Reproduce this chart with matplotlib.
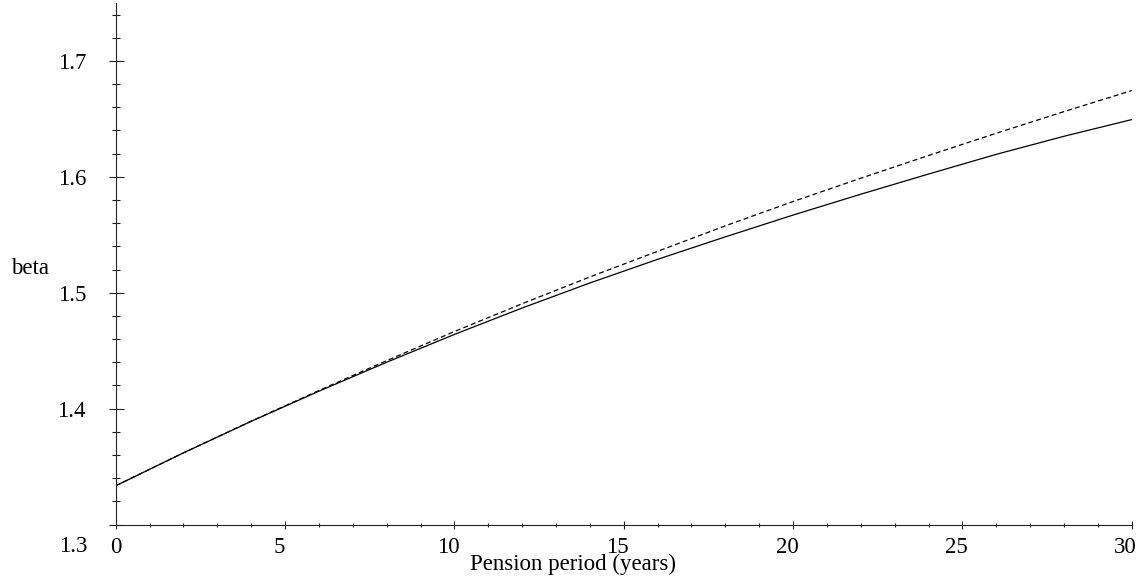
import matplotlib
matplotlib.use("Agg")
import matplotlib.pyplot as plt
from matplotlib.ticker import MultipleLocator
from matplotlib.transforms import ScaledTranslation

# Data
years = [0, 2, 4, 6, 8, 10, 12, 14, 16, 18, 20, 22, 24, 26, 28, 30]
beta_solid = [1.3334, 1.3618, 1.3890, 1.4150, 1.4400, 1.4640, 1.4868, 1.5084,
              1.5288, 1.5482, 1.5670, 1.5850, 1.6024, 1.6194, 1.6350, 1.6494]
beta_dashed = [1.3334, 1.3618, 1.3892, 1.4156, 1.4414, 1.4665, 1.4905, 1.5136,
               1.5357, 1.5577, 1.5787, 1.5988, 1.6184, 1.6376, 1.6563, 1.6744]
x_ticks = [0, 5, 10, 15, 20, 25, 30]
y_ticks = [1.4, 1.5, 1.6, 1.7]

plt.rcParams["font.family"] = ["Liberation Serif", "DejaVu Serif"]

W, H = 1143, 581
fig = plt.figure(figsize=(W / 100, H / 100), dpi=100)

# axes box in pixels
left_px, right_px = 115.7, 1131.7
bottom_px, top_px = 524.5, 3
ax = fig.add_axes([left_px / W, 1 - bottom_px / H,
                   (right_px - left_px) / W, (bottom_px - top_px) / H])

ax.plot(years, beta_solid, color="black", lw=0.9)
ax.plot(years, beta_dashed, color="black", lw=0.9, linestyle=(0, (4, 2.5)))

ax.set_xlim(0, 30)
ax.set_ylim(1.3, 1.75)

for side in ["top", "right"]:
    ax.spines[side].set_visible(False)
for side in ["left", "bottom"]:
    ax.spines[side].set_linewidth(0.8)
    ax.spines[side].set_color("#222222")

fs = 16.5
ax.set_xticks(x_ticks)
ax.set_xticklabels([str(t) for t in x_ticks])
ax.xaxis.set_minor_locator(MultipleLocator(1))
ax.set_yticks([1.3] + y_ticks)
ax.set_yticklabels([""] + [f"{t:.1f}" for t in y_ticks])
ax.yaxis.set_minor_locator(MultipleLocator(0.02))

ax.tick_params(axis="x", which="major", direction="inout", length=5.3,
               width=0.8, color="#222222", labelsize=fs, pad=6)
ax.tick_params(axis="x", which="minor", direction="inout", length=2.9,
               width=0.8, color="#222222")
ax.tick_params(axis="y", which="major", direction="inout", length=10.8,
               width=0.8, color="#222222", labelsize=fs, pad=16)
ax.tick_params(axis="y", which="minor", direction="inout", length=5.5,
               width=0.8, color="#222222")

# x tick labels sit a little left of their ticks (except 0)
for lab in ax.get_xticklabels()[1:]:
    lab.set_transform(lab.get_transform()
                      + ScaledTranslation(-6 / 100, 0, fig.dpi_scale_trans))

# the 1.3 label sits level with the x tick labels
ax.annotate("1.3", xy=(0, 1.3), xycoords="data",
            xytext=(-20.5, -16), textcoords="offset points",
            ha="right", va="center", fontsize=fs)

# axis labels
ax.annotate("Pension period (years)", xy=(13.5, 1.3), xycoords="data",
            xytext=(0, -29), textcoords="offset points",
            ha="center", va="center", fontsize=fs)
ax.annotate("beta", xy=(0, 1.521), xycoords="data",
            xytext=(-62, 0), textcoords="offset points",
            ha="center", va="center", fontsize=fs)

fig.savefig("out.png", dpi=100)
